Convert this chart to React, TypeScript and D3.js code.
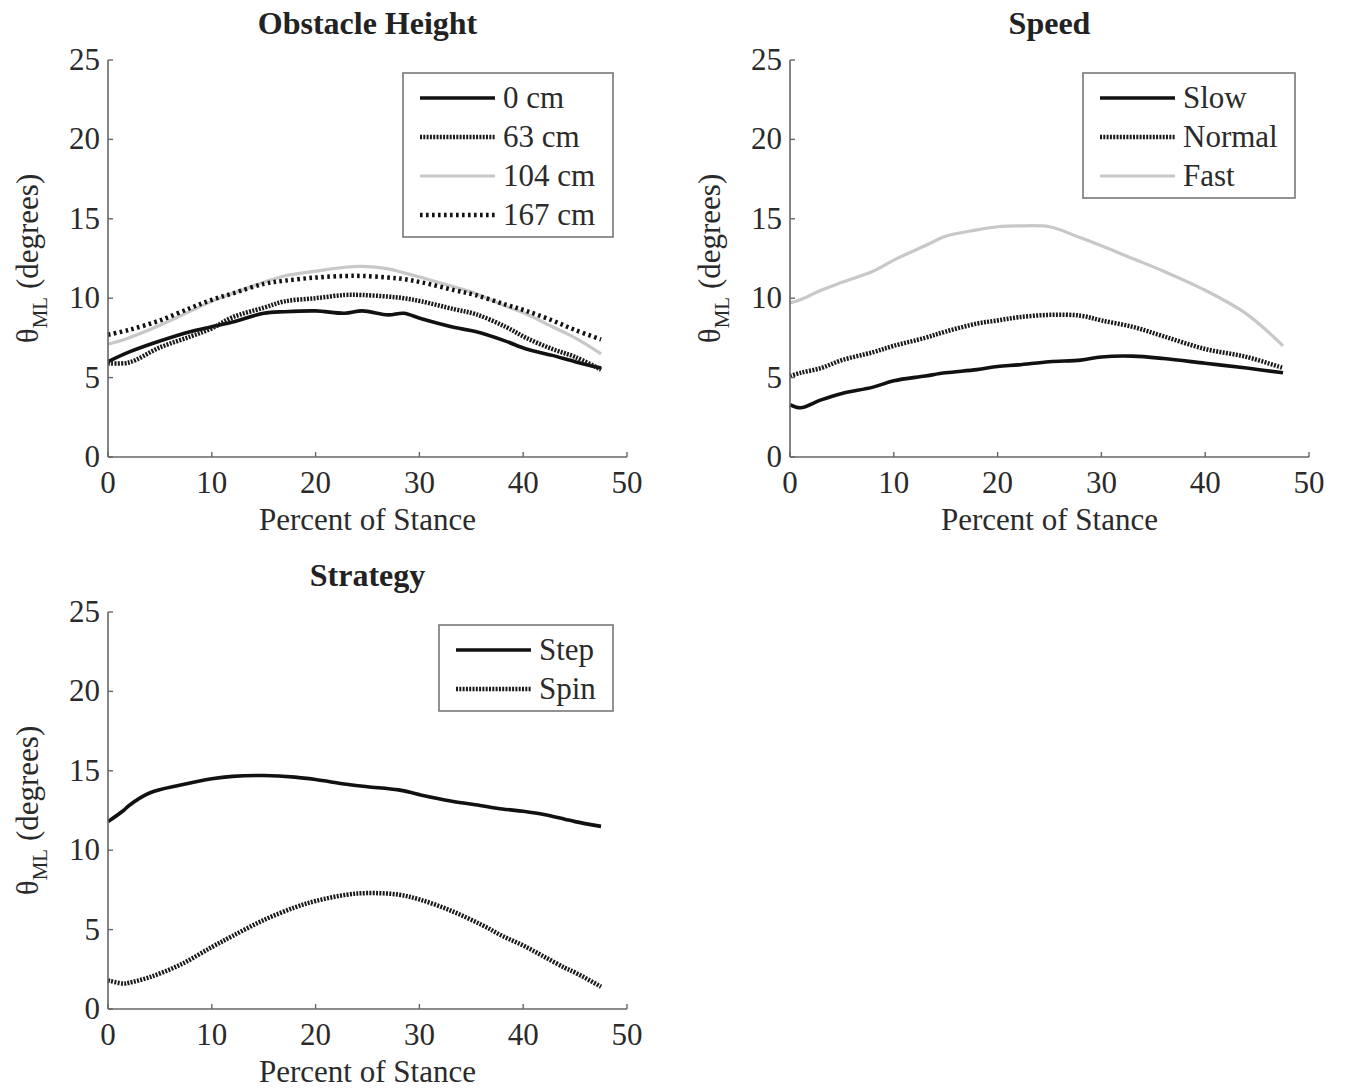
import React from 'react'
import * as d3 from 'd3'

const FONT = '"Liberation Serif", "Times New Roman", serif'
const X_TICKS = [0, 10, 20, 30, 40, 50]
const Y_TICKS = [0, 5, 10, 15, 20, 25]

// percent of stance sample positions
const xObstacle = [0, 2, 5, 8, 10, 12, 15, 17, 20, 22.8, 24.5, 27, 28.5, 30.2, 33.4, 35.4, 38.3, 40.3, 42.8, 45, 47.5]
const cm0 = [6.0, 6.6, 7.3, 7.9, 8.2, 8.5, 9.05, 9.15, 9.2, 9.05, 9.2, 8.95, 9.05, 8.7, 8.15, 7.9, 7.3, 6.8, 6.4, 6.0, 5.6]
const cm63 = [5.9, 5.95, 6.9, 7.6, 8.1, 8.8, 9.4, 9.8, 10.0, 10.2, 10.2, 10.1, 10.0, 9.8, 9.3, 9.0, 8.2, 7.5, 6.8, 6.3, 5.5]
const cm104 = [7.1, 7.5, 8.3, 9.2, 9.8, 10.3, 11.0, 11.4, 11.7, 11.95, 12.0, 11.85, 11.6, 11.3, 10.7, 10.3, 9.5, 9.0, 8.2, 7.5, 6.5]
const cm167 = [7.7, 8.0, 8.6, 9.4, 9.9, 10.3, 10.9, 11.1, 11.3, 11.4, 11.4, 11.3, 11.2, 11.0, 10.5, 10.2, 9.6, 9.2, 8.6, 8.0, 7.4]

const xSpeed = [0, 1, 3, 5, 8, 10, 13, 15, 18, 20, 22, 25, 28, 30, 33, 36, 40, 44, 47.5]
const slow = [3.3, 3.1, 3.6, 4.0, 4.4, 4.8, 5.1, 5.3, 5.5, 5.7, 5.8, 6.0, 6.1, 6.3, 6.35, 6.2, 5.9, 5.6, 5.3]
const normal = [5.1, 5.3, 5.6, 6.1, 6.6, 7.0, 7.5, 7.9, 8.4, 8.6, 8.8, 8.95, 8.9, 8.6, 8.2, 7.6, 6.8, 6.3, 5.6]
const fast = [9.7, 9.9, 10.5, 11.0, 11.7, 12.4, 13.3, 13.9, 14.3, 14.5, 14.55, 14.5, 13.8, 13.3, 12.5, 11.7, 10.5, 9.0, 7.0]

const xStrategy = [0, 1.5, 2, 4, 7, 10, 12, 15, 18, 20, 23, 25, 28, 30, 33, 36, 38, 40, 42, 44, 45, 47.5]
const step = [11.8, 12.5, 12.8, 13.6, 14.1, 14.5, 14.65, 14.7, 14.6, 14.45, 14.15, 14.0, 13.8, 13.5, 13.1, 12.8, 12.6, 12.45, 12.25, 11.95, 11.8, 11.5]
const spin = [1.8, 1.6, 1.65, 2.0, 2.8, 3.9, 4.6, 5.6, 6.4, 6.8, 7.2, 7.3, 7.2, 6.9, 6.2, 5.3, 4.6, 4.0, 3.3, 2.6, 2.3, 1.4]

const SOLID = { stroke: '#111', width: 3.6, dash: null }
const DENSE = { stroke: '#1a1a1a', width: 4.5, dash: '2,1.3' }
const SPARSE = { stroke: '#111', width: 4.5, dash: '2.6,3.4' }
const LIGHT = { stroke: '#c8c8c8', width: 3.2, dash: null }

const panels = [
  {
    title: 'Obstacle Height', left: 108, top: 60, legendW: 210,
    series: [
      { name: '0 cm', xs: xObstacle, ys: cm0, style: SOLID },
      { name: '63 cm', xs: xObstacle, ys: cm63, style: DENSE },
      { name: '104 cm', xs: xObstacle, ys: cm104, style: LIGHT },
      { name: '167 cm', xs: xObstacle, ys: cm167, style: SPARSE },
    ],
  },
  {
    title: 'Speed', left: 790, top: 60, legendW: 212,
    series: [
      { name: 'Slow', xs: xSpeed, ys: slow, style: SOLID },
      { name: 'Normal', xs: xSpeed, ys: normal, style: DENSE },
      { name: 'Fast', xs: xSpeed, ys: fast, style: LIGHT },
    ],
  },
  {
    title: 'Strategy', left: 108, top: 612, legendW: 174,
    series: [
      { name: 'Step', xs: xStrategy, ys: step, style: SOLID },
      { name: 'Spin', xs: xStrategy, ys: spin, style: DENSE },
    ],
  },
]

const W = 519
const H = 397

function Panel({ p }: { p: any }) {
  const x = d3.scaleLinear().domain([0, 50]).range([p.left, p.left + W])
  const y = d3.scaleLinear().domain([0, 25]).range([p.top + H, p.top])
  const line = d3.line<[number, number]>()
    .x(d => x(d[0]))
    .y(d => y(d[1]))
    .curve(d3.curveCatmullRom)
  const right = x(50)
  const bottom = y(0)
  const lgX = right - 14 - p.legendW
  const lgY = p.top + 13
  const lgH = p.series.length * 39 + 8
  const axisColor = '#666'
  const cx = (x(0) + x(50)) / 2
  return (
    <g>
      <text x={cx} y={p.top - 26} textAnchor="middle" fontSize={32} fontWeight="bold" fill="#222" fontFamily={FONT}>{p.title}</text>
      {p.series.map((s: any) => (
        <path key={s.name} d={line(s.xs.map((v: number, i: number) => [v, s.ys[i]]) as [number, number][]) || ''}
          fill="none" stroke={s.style.stroke} strokeWidth={s.style.width}
          strokeDasharray={s.style.dash || undefined} strokeLinejoin="round" />
      ))}
      <line x1={x(0)} x2={x(0)} y1={y(25)} y2={bottom} stroke={axisColor} strokeWidth={1.6} />
      <line x1={x(0)} x2={right} y1={bottom} y2={bottom} stroke={axisColor} strokeWidth={1.6} />
      {Y_TICKS.map(t => (
        <g key={'y' + t}>
          <line x1={x(0)} x2={x(0) + 5} y1={y(t)} y2={y(t)} stroke={axisColor} strokeWidth={1.4} />
          <text x={x(0) - 8} y={y(t) + 10} textAnchor="end" fontSize={31} fill="#2a2a2a" fontFamily={FONT}>{t}</text>
        </g>
      ))}
      {X_TICKS.map(t => (
        <g key={'x' + t}>
          <line x1={x(t)} x2={x(t)} y1={bottom} y2={bottom - 5} stroke={axisColor} strokeWidth={1.4} />
          <text x={x(t)} y={bottom + 36} textAnchor="middle" fontSize={31} fill="#2a2a2a" fontFamily={FONT}>{t}</text>
        </g>
      ))}
      <text x={cx} y={bottom + 73} textAnchor="middle" fontSize={31} fill="#2a2a2a" fontFamily={FONT}>Percent of Stance</text>
      <text transform={`translate(${p.left - 70},${(y(0) + y(25)) / 2}) rotate(-90)`} textAnchor="middle"
        fontSize={31} fill="#2a2a2a" fontFamily={FONT}>
        θ<tspan fontSize={21} dy={9}>ML</tspan><tspan dy={-9}> (degrees)</tspan>
      </text>
      <rect x={lgX} y={lgY} width={p.legendW} height={lgH} fill="#fff" stroke="#777" strokeWidth={1.6} />
      {p.series.map((s: any, i: number) => {
        const ly = lgY + 25 + i * 39
        return (
          <g key={'lg' + s.name}>
            <line x1={lgX + 17} x2={lgX + 92} y1={ly} y2={ly} stroke={s.style.stroke} strokeWidth={s.style.width}
              strokeDasharray={s.style.dash || undefined} />
            <text x={lgX + 100} y={ly + 10} fontSize={31} fill="#2a2a2a" fontFamily={FONT}>{s.name}</text>
          </g>
        )
      })}
    </g>
  )
}

export default function App() {
  return (
    <svg width={1345} height={1090} style={{ position: 'absolute', left: 0, top: 0, background: '#fff' }}>
      <rect width={1345} height={1090} fill="#fff" />
      {panels.map(p => <Panel key={p.title} p={p} />)}
    </svg>
  )
}
